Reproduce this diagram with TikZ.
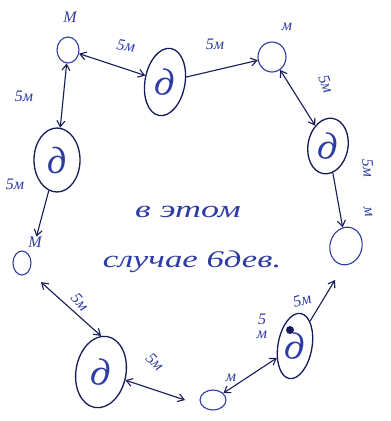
\documentclass[tikz,border=0pt]{standalone}
\usepackage{fontspec}
\setmainfont{Liberation Serif}
\usetikzlibrary{shapes.geometric,arrows.meta}
\definecolor{ink}{RGB}{45,60,165}
\definecolor{inkdark}{RGB}{22,28,90}
\begin{document}
\begin{tikzpicture}[x=1pt,y=-1pt,
  boy/.style={draw=ink,ellipse,line width=1.1pt,inner sep=0pt},
  girl/.style={draw=inkdark,ellipse,line width=1.3pt,inner sep=0pt,text=ink,
    font=\itshape\fontsize{38}{38}\selectfont},
  lbl/.style={text=ink,inner sep=0pt,font=\itshape\fontsize{16}{16}\selectfont},
  big/.style={text=ink,inner sep=0pt,font=\itshape\fontsize{24}{24}\selectfont},
  link/.style={draw=inkdark,line width=1.1pt,{Straight Barb[length=6pt,width=8pt]}-{Straight Barb[length=6pt,width=8pt]}},
  ray/.style={draw=inkdark,line width=1.1pt,-{Straight Barb[length=6pt,width=8pt]}}]
\fill[white] (0,0) rectangle (391,421);
\useasboundingbox (0,0) rectangle (391,421);
% boys
\node[boy,minimum width=22pt,minimum height=26pt] (M1) at (68,50) {};
\node[boy,minimum width=28pt,minimum height=30pt] (M2) at (272,57) {};
\node[boy,minimum width=32pt,minimum height=38pt,rotate=-15] (M3) at (346,246) {};
\node[boy,minimum width=26pt,minimum height=20pt] (M4) at (213,400) {};
\node[boy,minimum width=18pt,minimum height=24pt] (M5) at (22,263) {};
\node[lbl] (lM1) at (70,17) {М};
\node[lbl] (lM2) at (287,27) {м};
\node[lbl] (lM5) at (35,242) {М};
% girls
\node[girl,minimum width=40pt,minimum height=68pt,rotate=-10] (d1) at (165,82) {д};
\node[girl,minimum width=40pt,minimum height=56pt,rotate=-10] (d2) at (328,146) {д};
\node[girl,minimum width=34pt,minimum height=66pt,rotate=-10] (d3) at (295,346) {д};
\node[girl,minimum width=50pt,minimum height=72pt,rotate=-10] (d4) at (101,372) {д};
\node[girl,minimum width=46pt,minimum height=64pt] (d5) at (57,160) {д};
\fill[inkdark] (290,330) circle (4pt);
% free ends
\coordinate (e3) at (335,280);
\coordinate (e4) at (185,400);
% connectors
\draw[link] (M1) -- (d1);
\draw[ray] (d1) -- (M2);
\draw[link] (M2) -- (d2);
\draw[ray] (d2) -- (M3);
\draw[ray] (d3) -- (e3);
\draw[link] (d3) -- (M4);
\draw[link] (d4) -- (e4);
\draw[link,shorten >=16pt] (d4.100) -- (M5.-50);
\draw[link] (M1) -- (d5);
\draw[ray] (d5) -- (lM5);
% distance labels
\node[lbl,rotate=-10] (t1) at (126,46) {5м};
\node[lbl] (t2) at (215,44) {5м};
\node[lbl,rotate=-70] (t3) at (326,84) {5м};
\node[lbl,rotate=-85] (t4) at (368,168) {5м};
\node[lbl,rotate=-80] (t4b) at (368,212) {м};
\node[lbl,rotate=15] (t5) at (302,300) {5м};
\node[lbl,align=center] (t6) at (262,326) {5\\[-2pt]м};
\node[lbl] (t7) at (231,378) {м};
\node[lbl,rotate=-50] (t8) at (80,302) {5м};
\node[lbl,rotate=-45] (t9) at (155,362) {5м};
\node[lbl] (t10) at (24,96) {5м};
\node[lbl] (t11) at (15,184) {5м};
% centre text
\node[big] (c1) at (188,212) {\scalebox{1.5}[1]{в этом}};
\node[big] (c2) at (192,262) {\scalebox{1.45}[1]{случае 6дев.}};
\end{tikzpicture}
\end{document}
